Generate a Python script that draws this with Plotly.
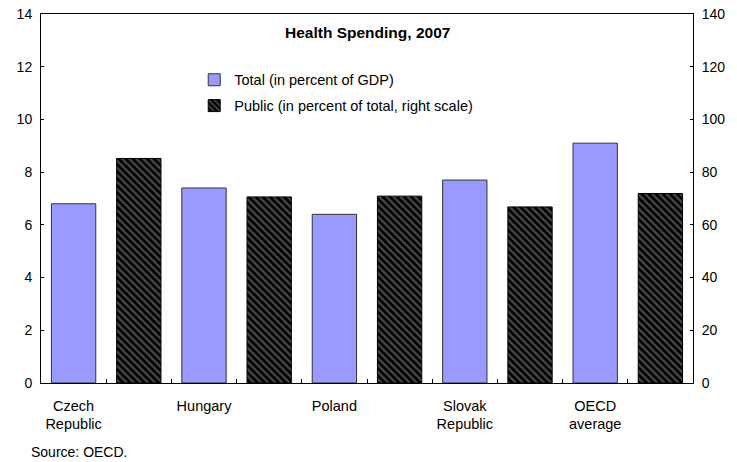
import plotly.graph_objects as go

countries = ["Czech<br>Republic", "Hungary", "Poland", "Slovak<br>Republic", "OECD<br>average"]
total_gdp = [6.8, 7.4, 6.4, 7.7, 9.1]          # left scale, percent of GDP
public_share = [85.2, 70.6, 70.9, 66.8, 71.9]  # right scale, percent of total

FONT = "Liberation Sans, Arial, sans-serif"

# each country gets two slots: total then public
x_total = [2 * i for i in range(len(countries))]
x_public = [2 * i + 1 for i in range(len(countries))]
n_slots = 2 * len(countries)

fig = go.Figure()
fig.add_trace(go.Bar(
    x=x_total, y=total_gdp, name="Total (in percent of GDP)",
    width=0.68, legendgroup="total",
    marker=dict(color="#9999FF", line=dict(color="#333333", width=1)),
    xaxis="x", yaxis="y",
))
fig.add_trace(go.Bar(
    x=x_public, y=public_share, name="Public (in percent of total, right scale)",
    width=0.68, legendgroup="public",
    marker=dict(color="black", line=dict(color="black", width=1),
                pattern=dict(shape="\\", fgcolor="#4a4a4a", bgcolor="black",
                             size=5, solidity=0.45, fillmode="replace")),
    xaxis="x", yaxis="y2",
))
# invisible trace so the label axis is drawn
fig.add_trace(go.Scatter(x=x_total, y=[0] * len(x_total), xaxis="x2", yaxis="y",
                         mode="markers", marker=dict(opacity=0), showlegend=False,
                         hoverinfo="skip"))

fig.update_layout(
    width=737, height=462,
    margin=dict(l=41, r=44, t=14, b=79),
    paper_bgcolor="white", plot_bgcolor="white",
    font=dict(family=FONT, size=14, color="black"),
    barmode="overlay",
    showlegend=True,
    legend=dict(x=0.235, y=0.865, xanchor="left", yanchor="top",
                bgcolor="rgba(0,0,0,0)", font=dict(size=14.5),
                tracegroupgap=4),
    xaxis=dict(
        range=[-0.5, n_slots - 0.5],
        tickmode="array",
        tickvals=[i + 0.5 for i in range(n_slots - 1)],
        ticktext=[""] * (n_slots - 1),
        ticks="inside", ticklen=4, tickcolor="black",
        showline=True, linecolor="black", linewidth=1, mirror=True,
        showgrid=False, zeroline=False, automargin=False,
    ),
    xaxis2=dict(
        overlaying="x", side="bottom",
        range=[-0.5, n_slots - 0.5],
        tickmode="array", tickvals=x_total, ticktext=countries,
        ticks="", showline=False, showgrid=False, zeroline=False,
        tickfont=dict(size=14.5), ticklabelstandoff=12, automargin=False,
    ),
    yaxis=dict(
        range=[0, 14], dtick=2,
        ticks="inside", ticklen=3, tickcolor="black",
        showline=True, linecolor="black", linewidth=1,
        showgrid=False, zeroline=False, automargin=False,
        ticklabelstandoff=5,
    ),
    yaxis2=dict(
        range=[0, 140], dtick=20, overlaying="y", side="right",
        ticks="inside", ticklen=3, tickcolor="black",
        showline=True, linecolor="black", linewidth=1,
        showgrid=False, zeroline=False, automargin=False,
        ticklabelstandoff=5,
    ),
    annotations=[
        dict(text="<b>Health Spending, 2007</b>", xref="paper", yref="paper",
             x=0.5, y=0.951, xanchor="center", yanchor="middle",
             showarrow=False, font=dict(size=15.5)),
        dict(text="Source: OECD.", xref="paper", yref="paper",
             x=-0.018, y=-0.187, xanchor="left", yanchor="middle",
             showarrow=False, font=dict(size=14)),
    ],
)

# drop the default 8px page margin so the figure sits at the window corner
fig.write_html("out.html", config={"displayModeBar": False},
               post_script="document.body.style.margin='0';")
